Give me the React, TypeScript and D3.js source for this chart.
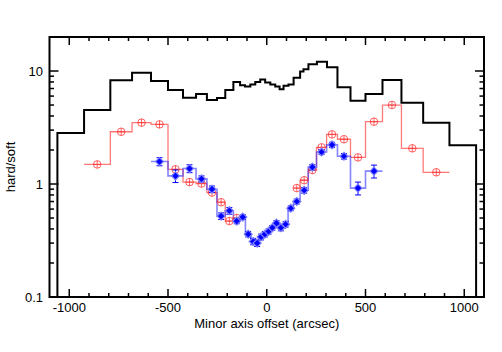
import React from 'react'
import * as d3 from 'd3'

// black histogram (all bins)
const blackEdges = [-1060, -925, -792, -682, -586, -500, -424, -358, -303, -252, -210, -169, -135,
  -110, -83, -58, -33, -8, 18, 43, 65, 85, 110, 136, 169, 186, 211, 254, 305, 358,
  424, 500, 586, 682, 792, 925, 1060]
const blackVals = [2.83, 4.52, 8.3, 9.66, 8.15, 6.79, 5.81, 6.25, 5.54, 5.77, 6.79, 8.0,
  7.5, 7.3, 7.6, 8.0, 8.4, 7.9, 7.6, 7.3, 6.9, 7.4, 7.6, 8.7, 9.9, 10.35, 11.5, 12.1,
  10.8, 7.17, 5.46, 6.25, 8.32, 5.24, 3.48, 2.2]

// red series, two sides
const redEdgesL = [-925, -792, -682, -586, -500, -424, -358, -303, -252, -210, -169, -135]
const redValsL = [1.49, 2.9, 3.49, 3.37, 1.35, 1.04, 1.01, 0.84, 0.69, 0.47, 0.5]
const redEdgesR = [135, 169, 210, 252, 303, 358, 424, 500, 586, 682, 792, 925]
const redValsR = [0.92, 1.08, 1.33, 2.11, 2.75, 2.49, 1.72, 3.56, 5.0, 2.07, 1.27]

// blue series
const blueEdges = [-586, -500, -424, -358, -303, -252, -210, -169, -135, -108, -80, -58, -39,
  -19, 0, 18, 38, 60, 83, 108, 135, 169, 210, 252, 303, 358, 424, 500, 586]
const blueVals = [1.58, 1.18, 1.37, 1.11, 0.9, 0.52, 0.58, 0.47, 0.51, 0.36, 0.31, 0.3, 0.34,
  0.36, 0.38, 0.41, 0.45, 0.41, 0.44, 0.61, 0.7, 0.88, 1.41, 1.92, 2.22, 1.76, 0.92, 1.3]
const blueErr = [0.13, 0.15, 0.11, 0.07, 0.06, 0.035, 0.04, 0.025, 0.025, 0.02, 0.02, 0.02, 0.02,
  0.02, 0.02, 0.02, 0.025, 0.025, 0.025, 0.03, 0.035, 0.05, 0.08, 0.1, 0.12, 0.1, 0.12, 0.17]

const xLabels = [-1000, -500, 0, 500, 1000]
const yLabels = [0.1, 1, 10]

const left = 49.5, right = 484, top = 37, bottom = 297
const font = '"Liberation Sans", Arial, Helvetica, sans-serif'

export default function App() {
  const x = d3.scaleLinear().domain([-1100, 1100]).range([left, right])
  const y = d3.scaleLog().domain([0.1, 20]).range([bottom, top])

  const steps = (edges: number[], vals: number[]) =>
    vals.flatMap((v, i) => [[edges[i], v], [edges[i + 1], v]])
  const centers = (edges: number[], vals: number[]) =>
    vals.map((v, i) => [(edges[i] + edges[i + 1]) / 2, v])
  const line = d3.line<number[]>().x(d => x(d[0])).y(d => y(d[1]))

  const blackPts = [[blackEdges[0], 0.1], ...steps(blackEdges, blackVals),
    [blackEdges[blackEdges.length - 1], 0.1]]

  const redPts = [...centers(redEdgesL, redValsL), ...centers(redEdgesR, redValsR)]
  const bluePts = centers(blueEdges, blueVals)

  const xMinor = d3.range(-1000, 1001, 100)
  const yMinor: number[] = []
  ;[0.1, 1, 10].forEach(d => { for (let k = 2; k <= 9; k++) if (k * d < 20) yMinor.push(k * d) })

  return (
    <svg width={502} height={352} style={{ position: 'absolute', left: 0, top: 0 }}
      fontFamily={font}>
      <rect x={0} y={0} width={502} height={352} fill="white" />

      <path d={line(blackPts) || ''} fill="none" stroke="black" strokeWidth={2} />

      <path d={line(steps(redEdgesL, redValsL)) || ''} fill="none" stroke="#ff2020" strokeOpacity={0.6} strokeWidth={1.3} />
      <path d={line(steps(redEdgesR, redValsR)) || ''} fill="none" stroke="#ff2020" strokeOpacity={0.6} strokeWidth={1.3} />

      <path d={line(steps(blueEdges, blueVals)) || ''} fill="none" stroke="#2020ff" strokeOpacity={0.55} strokeWidth={1.6} />

      {redPts.map((d, i) => (
        <g key={'r' + i} transform={`translate(${x(d[0])},${y(d[1])})`} stroke="#ff3030" strokeOpacity={0.75} fill="none" strokeWidth={1}>
          <circle r={3.8} />
          <line x1={0} x2={0} y1={-3.8} y2={3.8} />
          <line x1={-3.8} x2={3.8} y1={0} y2={0} />
        </g>
      ))}

      {bluePts.map((d, i) => {
        const cx = x(d[0]), cy = y(d[1])
        const e1 = y(d[1] + blueErr[i]), e0 = y(d[1] - blueErr[i])
        return (
          <g key={'b' + i}>
            <line x1={cx} x2={cx} y1={e1} y2={e0} stroke="#0000ff" strokeWidth={1} />
            <line x1={cx - 3} x2={cx + 3} y1={e1} y2={e1} stroke="#0000ff" strokeWidth={1} />
            <line x1={cx - 3} x2={cx + 3} y1={e0} y2={e0} stroke="#0000ff" strokeWidth={1} />
            <path d={`M${cx},${cy - 4}L${cx + 4},${cy}L${cx},${cy + 4}L${cx - 4},${cy}Z`}
              fill="#0000ff" stroke="#8080ff" strokeWidth={1.2} />
          </g>
        )
      })}

      {/* ticks */}
      <g stroke="black" strokeWidth={1.5}>
        {xMinor.map(t => {
          const len = t % 500 === 0 ? 8 : 4
          return (
            <g key={'xt' + t}>
              <line x1={x(t)} x2={x(t)} y1={bottom} y2={bottom - len} />
              <line x1={x(t)} x2={x(t)} y1={top} y2={top + len} />
            </g>
          )
        })}
        {yLabels.concat(yMinor).map(t => {
          const len = yLabels.includes(t) ? 9 : 4.5
          return (
            <g key={'yt' + t}>
              <line x1={left} x2={left + len} y1={y(t)} y2={y(t)} />
              <line x1={right} x2={right - len} y1={y(t)} y2={y(t)} />
            </g>
          )
        })}
      </g>

      <rect x={left} y={top} width={right - left} height={bottom - top} fill="none" stroke="black" strokeWidth={2} />

      {xLabels.map(t => (
        <text key={'xl' + t} x={x(t)} y={311.7} textAnchor="middle" fontSize={13}>{t}</text>
      ))}
      {yLabels.map(t => (
        <text key={'yl' + t} x={43} y={y(t) + 4.7} textAnchor="end" fontSize={13}>{t}</text>
      ))}
      <text x={(left + right) / 2} y={327.5} textAnchor="middle" fontSize={13}>Minor axis offset (arcsec)</text>
      <text transform={`translate(14.5,${(top + bottom) / 2}) rotate(-90)`} textAnchor="middle" fontSize={13}>hard/soft</text>
    </svg>
  )
}
